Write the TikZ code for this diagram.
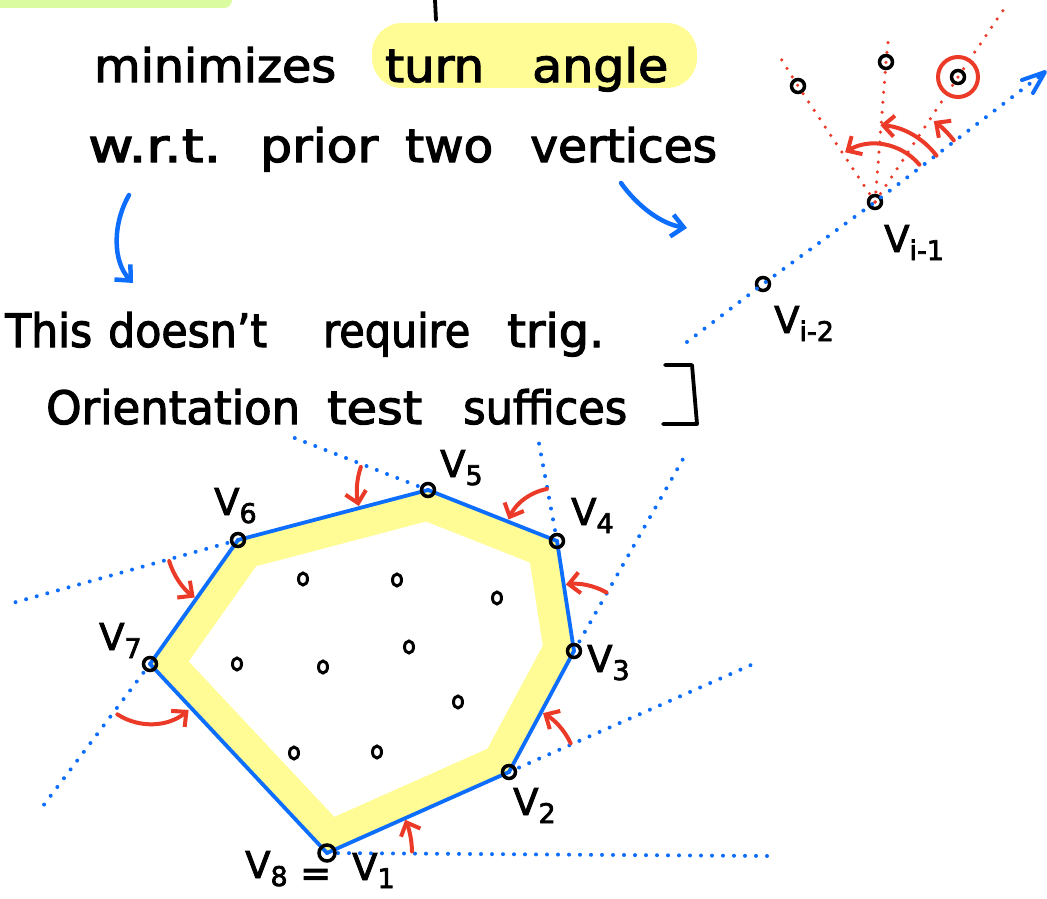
\documentclass[tikz,border=0pt]{standalone}
\usepackage{fontspec}
\setmainfont{DejaVu Sans}[FakeBold=2.5]
\usepackage{graphicx}
\usetikzlibrary{arrows.meta,calc,shapes.geometric}
\definecolor{hblue}{RGB}{13,110,253}
\definecolor{hred}{RGB}{236,58,40}
\definecolor{hyel}{RGB}{255,252,150}
\definecolor{hgreen}{RGB}{218,251,160}
\newcommand\sbs[1]{\raisebox{-8pt}{\fontsize{27}{27}\selectfont #1}}
\newcommand\fitword[2]{\resizebox{#1pt}{\height}{#2}}
\tikzset{
  ink/.style={line width=3.8pt, line cap=round, line join=round},
  bdot/.style={hblue, line width=4pt, line cap=round, dash pattern=on 0pt off 11pt},
  rdot/.style={hred, line width=3.5pt, line cap=round, dash pattern=on 0pt off 10pt},
  hull/.style={hblue, line width=3.8pt, line join=round},
  redarr/.style={hred, line width=4pt, line cap=round, -{Straight Barb[length=11pt,width=21pt]}},
  bluearr/.style={hblue, line width=4.5pt, line cap=round, -{Straight Barb[length=12pt,width=22pt]}},
  vtx/.style={circle, draw=black, line width=3.5pt, minimum size=13pt, inner sep=0pt},
  pt/.style={ellipse, draw=black, line width=3pt, minimum width=9pt, minimum height=12pt, inner sep=0pt},
  lab/.style={font=\fontsize{37}{37}\selectfont, inner sep=0pt, anchor=base west},
  txt/.style={font=\fontsize{46}{46}\selectfont, inner sep=0pt, anchor=base west},
}
\begin{document}
\begin{tikzpicture}[x=1pt,y=-1pt]
\useasboundingbox (0,0) rectangle (1047,899);
% highlights
\fill[hgreen, rounded corners=8pt] (-30,-30) rectangle (232,8);
\fill[hyel, rounded corners=30pt] (372,23) rectangle (697,88);
% stray stroke at top
\draw[ink] (435,0) -- (436,20);
% text line 1
\node[txt] (w11) at (94,82) {\fitword{242}{minimizes}};
\node[txt] (w12) at (385,82) {\fitword{99}{turn}};
\node[txt] (w13) at (532,82) {\fitword{136}{angle}};
% text line 2
\node[txt] (w21) at (88,162) {\fitword{133}{w.r.t.}};
\node[txt] (w22) at (260,162) {\fitword{118}{prior}};
\node[txt] (w23) at (405,162) {\fitword{88}{two}};
\node[txt] (w24) at (530,162) {\fitword{187}{vertices}};
% text line 3
\node[txt] (w31) at (5,347) {\fitword{87}{This}};
\node[txt] (w32) at (108,347) {\fitword{159}{doesn't}};
\node[txt] (w33) at (323,347) {\fitword{147}{require}};
\node[txt] (w34) at (507,347) {\fitword{97}{trig.}};
% text line 4
\node[txt] (w41) at (46,424) {\fitword{254}{Orientation}};
\node[txt] (w42) at (327,424) {\fitword{95}{test}};
\node[txt] (w43) at (463,424) {\fitword{164}{suffices}};
\draw[ink] (665,365) -- (692,365) -- (697,424) -- (663,424);
% blue curved arrows
\coordinate (a1s) at (129,195); \coordinate (a1e) at (133,283);
\draw[bluearr] (a1s) .. controls (112,225) and (113,262) .. (a1e);
\coordinate (a2s) at (621,183); \coordinate (a2e) at (687,228);
\draw[bluearr] (a2s) .. controls (638,207) and (662,224) .. (a2e);

% top-right diagram
\node[vtx] (pm1) at (875,202) {};
\node[vtx] (pm2) at (763,284) {};
\node[vtx] (q1) at (798,86) {};
\node[vtx] (q2) at (886,62) {};
\node[vtx] (q3) at (958,77) {};
\node[circle, draw=hred, line width=4pt, minimum size=40pt, inner sep=0pt] (q3r) at (958,77) {};
\coordinate (bs) at (687,342); \coordinate (be) at (1045,72);
\draw[bdot] (bs) -- (pm2.center) -- (pm1.center) -- (be);
\draw[hblue, line width=4pt, line cap=round, line join=round] ($(be)+(-23,8)$) -- (be) -- ($(be)+(-12,21)$);
\coordinate (r1) at (778,54); \coordinate (r2) at (889,33); \coordinate (r3) at (1008,3);
\draw[rdot] (pm1.center) -- (q1.center) -- (r1);
\draw[rdot] (pm1.center) -- (q2.center) -- (r2);
\draw[rdot] (pm1.center) -- (q3.center) -- (r3);
\draw[redarr] (pm1.center) ++(-38:100) arc[start angle=-38, end angle=-54, radius=100];
\draw[redarr] (pm1.center) ++(-37:77) arc[start angle=-37, end angle=-86, radius=77];
\draw[redarr] (pm1.center) ++(-40:58) arc[start angle=-40, end angle=-121, radius=58];
\node[lab] (lm1) at (884,252) {V\sbs{i-1}};
\node[lab] (lm2) at (774,333) {V\sbs{i-2}};

% polygon
\coordinate (c1) at (327,853);
\coordinate (c2) at (509,772);
\coordinate (c3) at (574,651);
\coordinate (c4) at (557,541);
\coordinate (c5) at (428,490);
\coordinate (c6) at (238,540);
\coordinate (c7) at (150,664);
\begin{scope}
  \clip (c1) -- (c2) -- (c3) -- (c4) -- (c5) -- (c6) -- (c7) -- cycle;
  \draw[hyel, line width=60pt, line join=round] (c1) -- (c2) -- (c3) -- (c4) -- (c5) -- (c6) -- (c7) -- cycle;
\end{scope}
% extensions
\coordinate (e1) at (770,856);
\coordinate (e2) at (760,661);
\coordinate (e3) at (687,452);
\coordinate (e4) at (538,438);
\coordinate (e5) at (287,435);
\coordinate (e6) at (9,604);
\coordinate (e7) at (40,810);
\draw[bdot] (c1) -- (e1);
\draw[bdot] (c2) -- (e2);
\draw[bdot] (c3) -- (e3);
\draw[bdot] (c4) -- (e4);
\draw[bdot] (c5) -- (e5);
\draw[bdot] (c6) -- (e6);
\draw[bdot] (c7) -- (e7);
\draw[hull] (c1) -- (c2) -- (c3) -- (c4) -- (c5) -- (c6) -- (c7) -- cycle;
\node[vtx, minimum size=16pt] (v1) at (c1) {};
\node[vtx] (v2) at (c2) {};
\node[vtx] (v3) at (c3) {};
\node[vtx] (v4) at (c4) {};
\node[vtx] (v5) at (c5) {};
\node[vtx] (v6) at (c6) {};
\node[vtx] (v7) at (c7) {};
% red arrows
\draw[redarr] (v1.center) ++(-1:85) arc[start angle=-1, end angle=-23, radius=85];
\draw[redarr] (v2.center) ++(-25:68) arc[start angle=-25, end angle=-60, radius=68];
\draw[redarr] (v3.center) ++(-61:67) arc[start angle=-61, end angle=-97, radius=67];
\draw[redarr] (v4.center) ++(-101:53) arc[start angle=-101, end angle=-156, radius=53];
\draw[redarr] (v5.center) ++(-161:71) arc[start angle=-161, end angle=-193, radius=71];
\draw[redarr] (v6.center) ++(-197:72) arc[start angle=-197, end angle=-233, radius=72];
\draw[redarr] (v7.center) ++(-237:60) arc[start angle=-237, end angle=-310, radius=60];
% interior points
\node[pt] (p1) at (303,579) {};
\node[pt] (p2) at (397,580) {};
\node[pt] (p3) at (497,598) {};
\node[pt] (p4) at (409,647) {};
\node[pt] (p5) at (237,664) {};
\node[pt] (p6) at (323,667) {};
\node[pt] (p7) at (458,702) {};
\node[pt] (p8) at (294,753) {};
\node[pt] (p9) at (377,752) {};
% labels
\node[lab] (l8) at (245,878) {V\sbs{8}};
\node[lab] (leq) at (300,886) {=};
\node[lab] (l1) at (352,880) {V\sbs{1}};
\node[lab] (l2) at (513,815) {V\sbs{2}};
\node[lab] (l3) at (587,672) {V\sbs{3}};
\node[lab] (l4) at (571,525) {V\sbs{4}};
\node[lab] (l5) at (440,477) {V\sbs{5}};
\node[lab] (l6) at (214,515) {V\sbs{6}};
\node[lab] (l7) at (99,650) {V\sbs{7}};
\end{tikzpicture}
\end{document}
